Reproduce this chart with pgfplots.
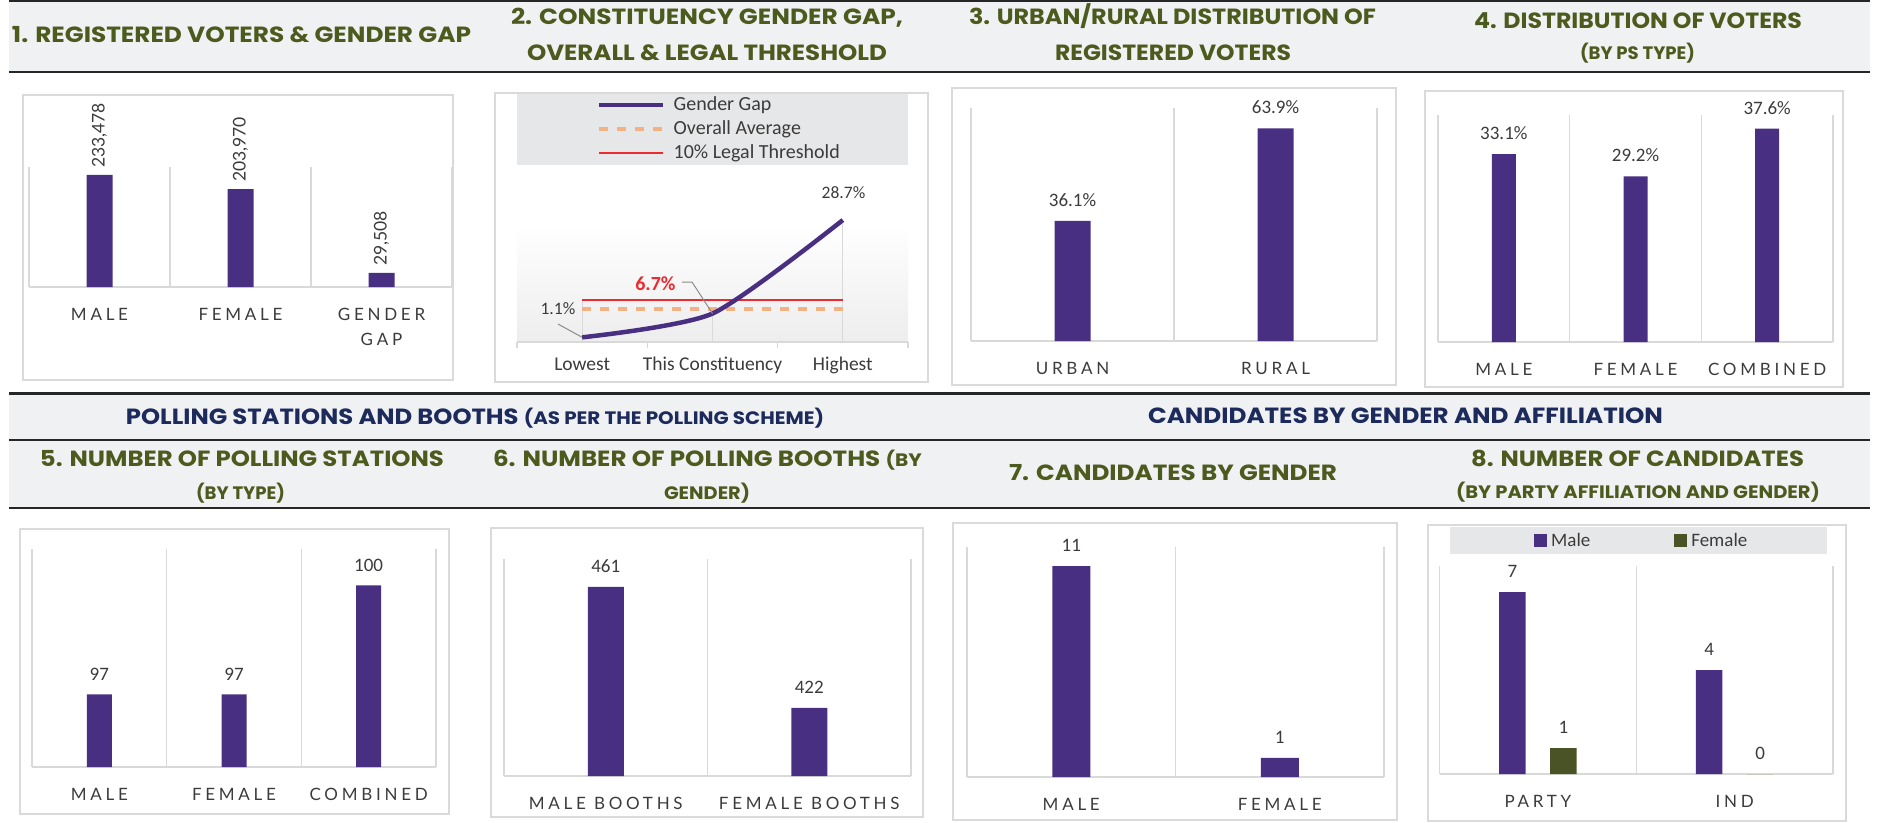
\documentclass[border=0pt]{standalone}
\usepackage{pgfplots}
\pgfplotsset{compat=1.18}
\usepackage{fontspec}
\usepackage{graphicx}
\setmainfont{Carlito}
\newfontfamily\hdf{Poppins}
\newfontfamily\catf[LetterSpace=22]{Lato}
\newfontfamily\numf{Lato}
\definecolor{barp}{HTML}{482F82}
\definecolor{barg}{HTML}{4A5325}
\definecolor{olv}{HTML}{4D5A1E}
\definecolor{navy}{HTML}{1D2A5C}
\definecolor{band}{HTML}{F0F1F3}
\definecolor{gridc}{HTML}{D9D9D9}
\definecolor{boxc}{HTML}{DADADA}
\definecolor{legbg}{HTML}{E6E7E9}
\definecolor{avgor}{HTML}{F4B183}
\definecolor{thr}{HTML}{EC2A2F}
\definecolor{txtc}{HTML}{3B3B3B}
\newcommand\HB{\fontsize{22}{24}\selectfont}
\newcommand\HS{\fontsize{18}{20}\selectfont}
% color, cx, baseline, width, text
\newcommand\Hd[5]{\node[text=#1, inner sep=0pt, anchor=base] at (#2pt,-#3pt) {\resizebox{#4pt}{\height}{\hdf\bfseries #5}};}
\pgfplotsset{
 bp/.style={scale only axis, anchor=south west, ybar, enlargelimits=false,
   axis y line=none, axis x line*=bottom,
   x axis line style={-, draw=gridc, line width=1.5pt},
   major tick length=0pt, minor tick length=0pt,
   xminorgrids=true, minor grid style={draw=gridc, line width=1.3pt},
   xticklabel style={font=\catf\fontsize{17}{25}\selectfont, text=txtc, anchor=north, inner sep=0pt, text height=12pt, yshift=-21pt, align=center},
   point meta=explicit symbolic, nodes near coords},
 vl/.style={every node near coord/.append style={font=\fontsize{19}{20}\selectfont, text=txtc, anchor=south, inner sep=0pt, yshift=14pt}},
}
\begin{document}
\begin{tikzpicture}
\useasboundingbox (0pt,0pt) rectangle (1886pt,-822pt);
% header bands
\fill[band] (9pt,-2pt) rectangle (1870pt,-72pt);
\draw[black!85, line width=1.5pt] (9pt,-1pt) -- (1870pt,-1pt);
\draw[black!85, line width=2.5pt] (9pt,-72pt) -- (1870pt,-72pt);
\fill[band] (9pt,-395pt) rectangle (1870pt,-440pt);
\fill[band] (9pt,-441pt) rectangle (1870pt,-507pt);
\draw[black!85, line width=2.5pt] (9pt,-393.5pt) -- (1870pt,-393.5pt);
\draw[black!85, line width=2.5pt] (9pt,-440pt) -- (1870pt,-440pt);
\draw[black!85, line width=2.5pt] (9pt,-508pt) -- (1870pt,-508pt);
% titles
\Hd{olv}{241.5}{42.7}{459}{\HB 1. REGISTERED VOTERS \& GENDER GAP}
\Hd{olv}{707}{24.7}{392}{\HB 2. CONSTITUENCY GENDER GAP,}
\Hd{olv}{707}{60.7}{360}{\HB OVERALL \& LEGAL THRESHOLD}
\Hd{olv}{1172.5}{24.7}{407}{\HB 3. URBAN/RURAL DISTRIBUTION OF}
\Hd{olv}{1173}{60.7}{236}{\HB REGISTERED VOTERS}
\Hd{olv}{1638}{28.7}{328}{\HB 4. DISTRIBUTION OF VOTERS}
\Hd{olv}{1637.5}{59.3}{115}{\HS (BY PS TYPE)}
\Hd{navy}{475}{424.7}{698}{{\HB POLLING STATIONS AND BOOTHS }{\HS(AS PER THE POLLING SCHEME)}}
\Hd{navy}{1405.5}{423.7}{515}{\HB CANDIDATES BY GENDER AND AFFILIATION}
\Hd{olv}{242}{466.7}{404}{\HB 5. NUMBER OF POLLING STATIONS}
\Hd{olv}{240.5}{499.3}{89}{\HS (BY TYPE)}
\Hd{olv}{707.5}{466.7}{429}{{\HB 6. NUMBER OF POLLING BOOTHS }{\HS(BY}}
\Hd{olv}{707}{499.3}{86}{\HS GENDER)}
\Hd{olv}{1173}{480.7}{328}{\HB 7. CANDIDATES BY GENDER}
\Hd{olv}{1637.5}{466.7}{333}{\HB 8. NUMBER OF CANDIDATES}
\Hd{olv}{1638}{498.3}{364}{\HS (BY PARTY AFFILIATION AND GENDER)}
% panel boxes
\draw[boxc, line width=2pt] (23pt,-95pt) rectangle (453pt,-380pt);
\draw[boxc, line width=2pt] (495pt,-93pt) rectangle (928pt,-382pt);
\draw[boxc, line width=2pt] (952pt,-88pt) rectangle (1396pt,-385pt);
\draw[boxc, line width=2pt] (1425pt,-91pt) rectangle (1843pt,-387pt);
\draw[boxc, line width=2pt] (20pt,-529pt) rectangle (449pt,-814pt);
\draw[boxc, line width=2pt] (491pt,-528pt) rectangle (923pt,-817pt);
\draw[boxc, line width=2pt] (953pt,-523pt) rectangle (1397pt,-820pt);
\draw[boxc, line width=2pt] (1428pt,-525pt) rectangle (1846pt,-821pt);

% ---- Panel 1
\begin{axis}[bp, at={(29pt,-287pt)}, width=423pt, height=120pt, bar width=26pt,
  xmin=-0.5, xmax=2.5, ymin=0, ymax=250000, xtick={0,1,2}, minor xtick={-0.5,0.5,1.5,2.5},
  xticklabels={MALE,FEMALE,{GENDER\\GAP}},
  xticklabel style={text height=},
  nodes near coords align=horizontal,
  every node near coord/.append style={rotate=90, anchor=west, font=\numf\fontsize{17.5}{18}\selectfont, text=txtc, inner xsep=7pt, inner ysep=0pt}]
\addplot[fill=barp, draw=none] coordinates {(0,233478) [{233,478}] (1,203970) [{203,970}] (2,29508) [{29,508}]};
\end{axis}

% ---- Panel 2
\fill[legbg] (517pt,-94pt) rectangle (908pt,-165pt);
\shade[top color=white, bottom color=black!7] (517pt,-223pt) rectangle (908pt,-342pt);
\begin{axis}[scale only axis, anchor=south west, at={(517pt,-342pt)}, width=391pt, height=148.75pt,
  xmin=-0.5, xmax=2.5, ymin=0, ymax=35, enlargelimits=false, clip=false,
  axis y line=none, axis x line*=bottom, x axis line style={-, draw=gridc, line width=1.5pt},
  xtick={0,1,2}, xticklabels={Lowest,This Constituency,Highest}, major tick length=0pt,
  minor xtick={-0.5,0.5,1.5,2.5}, minor tick length=6pt, tick align=outside,
  minor tick style={draw=gridc, line width=1.3pt},
  xticklabel style={font=\fontsize{19.5}{20}\selectfont, text=txtc, anchor=north, inner sep=0pt, text height=13pt, yshift=-15pt},
  legend style={draw=none, fill=none, at={(0.2046,1.654)}, anchor=north west, inner sep=0pt,
    font=\fontsize{20}{20}\selectfont, text=txtc, legend cell align=left, row sep=6pt,
    nodes={inner sep=0pt, text height=14pt, text depth=4pt},
    /tikz/every odd column/.append style={column sep=8pt}},
  legend image code/.code={\draw[#1] (0pt,0pt) -- (64pt,0pt);}]
\addplot[ycomb, mark=none, draw=gridc, line width=1.3pt, forget plot] coordinates {(0,10) (1,6.7) (2,28.7)};
\addplot[thr, mark=none, line width=2pt, forget plot] coordinates {(0,10) (2,10)};
\addplot[avgor, mark=none, line width=3.5pt, dash pattern=on 9pt off 9pt, forget plot] coordinates {(0,7.8) (2,7.8)};
\addplot[barp, mark=none, line width=4.5pt, smooth, tension=0.4, forget plot] coordinates {(0,1.1) (1,6.7) (2,28.7)};
\addlegendimage{barp, line width=4.5pt}
\addlegendentry{Gender Gap}
\addlegendimage{avgor, line width=3.5pt, dash pattern=on 9pt off 9pt}
\addlegendentry{Overall Average}
\addlegendimage{thr, line width=2pt}
\addlegendentry{10\% Legal Threshold}
\draw[black!45, line width=1pt] (axis cs:-0.186,4.24) -- (axis cs:0,1.1);
\draw[black!45, line width=1pt] (axis cs:0.766,14.1) -- (axis cs:0.843,14.1) -- (axis cs:1,6.7);
\node[font=\fontsize{17.5}{17}\selectfont, text=txtc] at (axis cs:-0.186,7.76) {1.1\%};
\node[font=\bfseries\fontsize{20}{20}\selectfont, text=thr] at (axis cs:0.562,13.76) {6.7\%};
\node[font=\fontsize{17.5}{17}\selectfont, text=txtc] at (axis cs:2.005,35.06) {28.7\%};
\end{axis}

% ---- Panel 3
\begin{axis}[bp, vl, at={(971pt,-341pt)}, width=406pt, height=233pt, bar width=36pt,
  xmin=-0.5, xmax=1.5, ymin=0, ymax=70, xtick={0,1}, minor xtick={-0.5,0.5,1.5},
  xticklabels={URBAN,RURAL}]
\addplot[fill=barp, draw=none] coordinates {(0,36.1) [36.1\%] (1,63.9) [63.9\%]};
\end{axis}

% ---- Panel 4
\begin{axis}[bp, vl, at={(1438pt,-342pt)}, width=395pt, height=227pt, bar width=24pt,
  xmin=-0.5, xmax=2.5, ymin=0, ymax=40, xtick={0,1,2}, minor xtick={-0.5,0.5,1.5,2.5},
  xticklabels={MALE,FEMALE,COMBINED}]
\addplot[fill=barp, draw=none] coordinates {(0,33.1) [33.1\%] (1,29.2) [29.2\%] (2,37.6) [37.6\%]};
\end{axis}

% ---- Panel 5
\begin{axis}[bp, vl, at={(32pt,-767pt)}, width=404pt, height=218pt, bar width=25pt,
  xmin=-0.5, xmax=2.5, ymin=95, ymax=101, xtick={0,1,2}, minor xtick={-0.5,0.5,1.5,2.5},
  xticklabels={MALE,FEMALE,COMBINED}]
\addplot[fill=barp, draw=none] coordinates {(0,97) [97] (1,97) [97] (2,100) [100]};
\end{axis}

% ---- Panel 6
\begin{axis}[bp, vl, at={(504pt,-776pt)}, width=407pt, height=217pt, bar width=36pt,
  xmin=-0.5, xmax=1.5, ymin=400, ymax=470, xtick={0,1}, minor xtick={-0.5,0.5,1.5},
  xticklabels={MALE BOOTHS,FEMALE BOOTHS}]
\addplot[fill=barp, draw=none] coordinates {(0,461) [461] (1,422) [422]};
\end{axis}

% ---- Panel 7
\begin{axis}[bp, vl, at={(967pt,-777pt)}, width=417pt, height=230pt, bar width=38pt,
  xmin=-0.5, xmax=1.5, ymin=0, ymax=12, xtick={0,1}, minor xtick={-0.5,0.5,1.5},
  xticklabels={MALE,FEMALE}]
\addplot[fill=barp, draw=none] coordinates {(0,11) [11] (1,1) [1]};
\end{axis}

% ---- Panel 8
\fill[legbg] (1450pt,-527pt) rectangle (1827pt,-554pt);
\begin{axis}[bp, vl, at={(1439.5pt,-774pt)}, width=393.5pt, height=208pt, bar width=26.5pt, ybar=24.5pt,
  xmin=-0.5, xmax=1.5, ymin=0, ymax=8, xtick={0,1}, minor xtick={-0.5,0.5,1.5},
  xticklabels={PARTY,IND},
  legend columns=2,
  legend style={draw=none, fill=none, at={(0.240,1.1226)}, anchor=west, inner sep=0pt,
    font=\fontsize{19}{20}\selectfont, text=txtc, nodes={inner sep=0pt},
    /tikz/every odd column/.append style={column sep=4pt},
    /tikz/every even column/.append style={column sep=84pt}},
  legend image code/.code={\fill[#1] (0pt,-6.5pt) rectangle (13pt,6.5pt);}]
\addplot[fill=barp, draw=none] coordinates {(0,7) [7] (1,4) [4]};
\addplot[fill=barg, draw=none] coordinates {(0,1) [1] (1,0) [0]};
\legend{Male,Female}
\end{axis}
\end{tikzpicture}
\end{document}
